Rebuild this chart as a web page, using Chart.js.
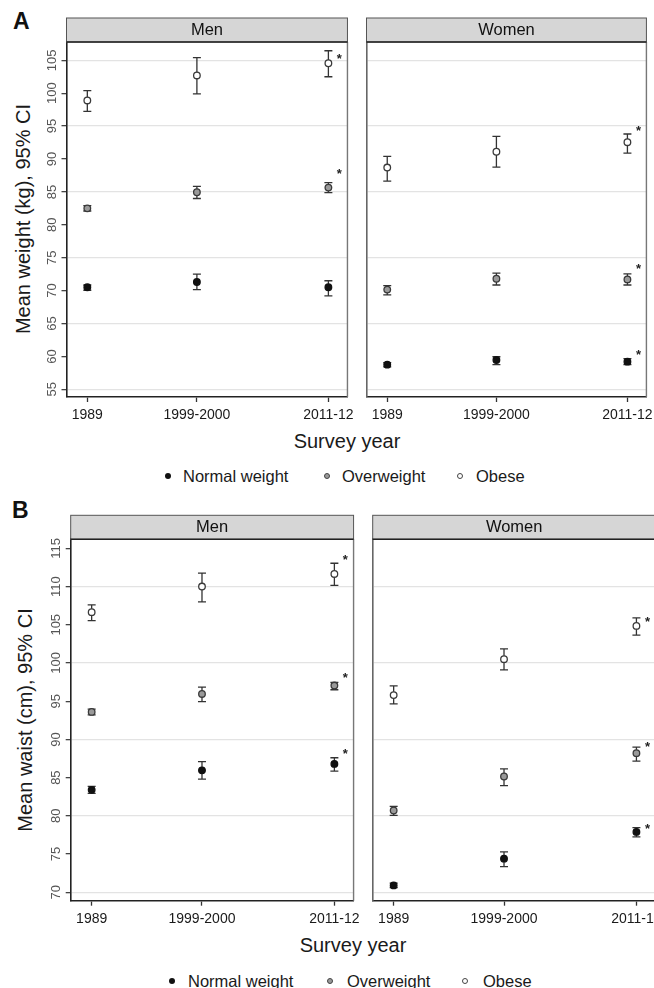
<!DOCTYPE html>
<html>
<head>
<meta charset="utf-8">
<script src="https://cdn.jsdelivr.net/npm/chart.js@4.4.1/dist/chart.umd.min.js"></script>
<style>
  html, body { margin: 0; padding: 0; background: #fff; }
  body { width: 654px; height: 988px; position: relative; overflow: hidden;
         font-family: "Liberation Sans", Arial, sans-serif; color: #1a1a1a; }
  canvas { position: absolute; }
  .txt { position: absolute; white-space: nowrap; line-height: 1; }
  .mid { transform: translate(-50%, -50%); }
  .ytitle { font-size: 20px; transform: translate(-50%, -50%) rotate(-90deg); }
  .xtitle { font-size: 20px; }
  .tag { font-size: 23px; font-weight: bold; color: #111; }
  .leg { font-size: 16.5px; transform: translateY(-50%); }
  .dot { position: absolute; width: 6px; height: 6px; border-radius: 50%; box-sizing: border-box;
         transform: translate(-50%, -50%); }
</style>
</head>
<body>

<div class="txt tag" style="left:13px; top:10px;">A</div>
<div class="txt ytitle" style="left:23px; top:219px;">Mean weight (kg), 95% CI</div>
<div class="txt xtitle mid" style="left:347px; top:441px;">Survey year</div>
<div class="dot" style="left:168px; top:476px; background:#111;"></div>
<div class="txt leg" style="left:183px; top:476px;">Normal weight</div>
<div class="dot" style="left:327px; top:476px; background:#9a9a9a; border:1px solid #444;"></div>
<div class="txt leg" style="left:342px; top:476px;">Overweight</div>
<div class="dot" style="left:460px; top:476px; background:#fff; border:1px solid #444;"></div>
<div class="txt leg" style="left:476px; top:476px;">Obese</div>

<div class="txt tag" style="left:12px; top:499px;">B</div>
<div class="txt ytitle" style="left:25px; top:720px;">Mean waist (cm), 95% CI</div>
<div class="txt xtitle mid" style="left:353px; top:945px;">Survey year</div>
<div class="dot" style="left:172px; top:981px; background:#111;"></div>
<div class="txt leg" style="left:188px; top:981px;">Normal weight</div>
<div class="dot" style="left:330px; top:981px; background:#9a9a9a; border:1px solid #444;"></div>
<div class="txt leg" style="left:347px; top:981px;">Overweight</div>
<div class="dot" style="left:465px; top:981px; background:#fff; border:1px solid #444;"></div>
<div class="txt leg" style="left:483px; top:981px;">Obese</div>

<script>
// survey years (x) and their labels
const years = [1989, 1999, 2011];
const yearLabels = ['1989', '1999-2000', '2011-12'];
const groups = ['Normal weight', 'Overweight', 'Obese'];

// each entry: [mean, lower 95% CI, upper 95% CI] for 1989, 1999-2000, 2011-12
const weightMenNormal = [[70.5, 70.05, 70.85], [71.3, 70.15, 72.5], [70.5, 69.2, 71.5]];
const weightMenOver   = [[82.5, 82.1, 82.9], [84.95, 84.0, 85.85], [85.65, 84.9, 86.4]];
const weightMenObese  = [[98.9, 97.25, 100.4], [102.7, 99.9, 105.4], [104.55, 102.5, 106.45]];
const weightWomenNormal = [[58.75, 58.4, 59.05], [59.45, 58.75, 59.95], [59.2, 58.75, 59.65]];
const weightWomenOver   = [[70.15, 69.35, 70.75], [71.8, 70.85, 72.65], [71.7, 70.85, 72.55]];
const weightWomenObese  = [[88.7, 86.65, 90.4], [91.1, 88.75, 93.45], [92.55, 90.9, 93.8]];

const waistMenNormal = [[83.4, 82.95, 83.85], [85.95, 84.8, 87.1], [86.8, 85.85, 87.6]];
const waistMenOver   = [[93.6, 93.2, 93.95], [95.95, 94.95, 96.85], [97.05, 96.5, 97.45]];
const waistMenObese  = [[106.65, 105.55, 107.6], [110.0, 108.0, 111.75], [111.65, 110.15, 113.05]];
const waistWomenNormal = [[70.9, 70.6, 71.2], [74.4, 73.35, 75.3], [77.9, 77.25, 78.45]];
const waistWomenOver   = [[80.7, 80.05, 81.25], [85.15, 83.95, 86.15], [88.2, 87.15, 89.0]];
const waistWomenObese  = [[95.8, 94.65, 97.0], [100.5, 99.1, 101.85], [104.85, 103.65, 105.9]];

// height of the "*" beside 2011-12 (normal, overweight, obese); null = none
const weightMenStars = [null, 88.2, 105.7];
const weightWomenStars = [60.7, 73.8, 94.75];
const waistMenStars = [88.5, 98.55, 113.9];
const waistWomenStars = [78.8, 89.5, 105.85];

// axis ticks and grid lines
const weightTicks = [55, 60, 65, 70, 75, 80, 85, 90, 95, 100, 105];
const weightGrid = [55, 65, 75, 85, 95, 105];
const waistTicks = [70, 75, 80, 85, 90, 95, 100, 105, 110, 115];
const waistGrid = [70, 80, 90, 100, 110];

const FONT = '"Liberation Sans", Arial, sans-serif';
const styles = [
  { fill: '#111111', edge: '#111111' },
  { fill: '#9a9a9a', edge: '#3a3a3a' },
  { fill: '#ffffff', edge: '#3a3a3a' }
];

// error bars, drawn under the markers
const ciPlugin = {
  id: 'ci',
  beforeDatasetsDraw(chart) {
    const { ctx, scales: { x, y } } = chart;
    ctx.save();
    ctx.strokeStyle = '#333';
    ctx.lineWidth = 1.3;
    chart.data.datasets.forEach(ds => {
      ds.ci.forEach((v, i) => {
        const px = x.getPixelForValue(years[i]);
        const lo = y.getPixelForValue(v[1]);
        const hi = y.getPixelForValue(v[2]);
        ctx.beginPath();
        ctx.moveTo(px, lo); ctx.lineTo(px, hi);
        ctx.moveTo(px - 4, lo); ctx.lineTo(px + 4, lo);
        ctx.moveTo(px - 4, hi); ctx.lineTo(px + 4, hi);
        ctx.stroke();
      });
    });
    ctx.restore();
  },
  afterDatasetsDraw(chart) {
    const { ctx, scales: { x, y } } = chart;
    ctx.save();
    ctx.fillStyle = '#222';
    ctx.font = 'bold 13px ' + FONT;
    ctx.textAlign = 'center';
    ctx.textBaseline = 'alphabetic';
    chart.data.datasets.forEach(ds => {
      if (ds.star == null) return;
      const px = x.getPixelForValue(years[2]) + 11;
      const py = y.getPixelForValue(ds.star) + 7.5;
      ctx.fillText('*', px, py);
    });
    ctx.restore();
  }
};

// plot box right edge and the grey strip header
const framePlugin = {
  id: 'frame',
  afterDraw(chart, args, opts) {
    const { ctx, chartArea: a } = chart;
    ctx.save();
    ctx.strokeStyle = '#777';
    ctx.lineWidth = 1.4;
    ctx.beginPath();
    ctx.moveTo(a.right, a.top); ctx.lineTo(a.right, a.bottom);
    ctx.stroke();
    ctx.fillStyle = '#d6d6d6';
    ctx.fillRect(a.left, a.top - 24, a.right - a.left, 24);
    ctx.strokeStyle = '#555';
    ctx.lineWidth = 1;
    ctx.strokeRect(a.left, a.top - 24, a.right - a.left, 24);
    ctx.strokeStyle = '#222';
    ctx.lineWidth = 1.6;
    ctx.beginPath();
    ctx.moveTo(a.left, a.top); ctx.lineTo(a.right, a.top);
    ctx.stroke();
    ctx.fillStyle = '#111';
    ctx.font = '16.5px ' + FONT;
    ctx.textAlign = 'center';
    ctx.textBaseline = 'middle';
    ctx.fillText(opts.title, (a.left + a.right) / 2, a.top - 11.5);
    ctx.restore();
  }
};

function makePanel(box, title, yTicks, yGrid, showY, series, stars) {
  const yw = showY ? 30 : 0;
  const cl = Math.round(box.l) - yw - 6;
  const ct = Math.round(box.t) - 40;
  const w = Math.ceil(box.r - cl + 6);
  const h = Math.ceil(box.b - ct + 32);
  const cv = document.createElement('canvas');
  cv.width = w; cv.height = h;
  cv.style.left = cl + 'px'; cv.style.top = ct + 'px';
  cv.style.width = w + 'px'; cv.style.height = h + 'px';
  document.body.appendChild(cv);

  const yMin = yTicks[0] - (yTicks === weightTicks ? 1.17 : 1.1);
  const yMax = yTicks[yTicks.length - 1] + (yTicks === weightTicks ? 2.78 : 1.18);

  new Chart(cv, {
    type: 'scatter',
    data: {
      datasets: series.map((s, g) => ({
        label: groups[g],
        data: s.map((v, i) => ({ x: years[i], y: v[0] })),
        ci: s,
        star: stars[g],
        pointStyle: 'circle',
        pointRadius: 3.3,
        pointHoverRadius: 3.3,
        pointBorderWidth: 1.3,
        pointBackgroundColor: styles[g].fill,
        pointBorderColor: styles[g].edge
      }))
    },
    options: {
      responsive: false,
      animation: false,
      devicePixelRatio: 1,
      layout: { padding: { left: box.l - cl - yw, top: box.t - ct, right: cl + w - box.r, bottom: h - (box.b - ct) - 30 } },
      plugins: { legend: { display: false }, tooltip: { enabled: false }, frame: { title } },
      scales: {
        x: {
          type: 'linear', min: 1987.1, max: 2012.74,
          afterBuildTicks: s => { s.ticks = years.map(v => ({ value: v })); },
          afterFit: s => { s.height = 30; },
          ticks: {
            callback: v => yearLabels[years.indexOf(v)],
            font: { size: 14, family: FONT }, color: '#1a1a1a',
            padding: 5, maxRotation: 0, autoSkip: false
          },
          grid: { drawOnChartArea: false, drawTicks: true, tickLength: 5, tickColor: '#333', tickWidth: 1.3 },
          border: { color: '#222', width: 1.6 }
        },
        y: {
          min: yMin, max: yMax,
          afterBuildTicks: s => { s.ticks = yTicks.map(v => ({ value: v })); },
          afterFit: s => { s.width = yw; },
          ticks: {
            display: showY, minRotation: 90, maxRotation: 90, crossAlign: 'center',
            font: { size: 13, family: FONT }, color: '#555', padding: -2, autoSkip: false
          },
          grid: {
            color: c => (c.tick && yGrid.includes(c.tick.value)) ? '#e3e3e3' : 'rgba(0,0,0,0)',
            lineWidth: 1.3, drawTicks: showY, tickLength: 5, tickColor: '#444', tickWidth: 1.3
          },
          border: { color: showY ? '#222' : '#666', width: 1.6 }
        }
      }
    },
    plugins: [ciPlugin, framePlugin]
  });
}

makePanel({ l: 66.5, t: 42, r: 352.5, b: 397 }, 'Men', weightTicks, weightGrid, true,
  [weightMenNormal, weightMenOver, weightMenObese], weightMenStars);
makePanel({ l: 366.5, t: 42, r: 652, b: 397 }, 'Women', weightTicks, weightGrid, false,
  [weightWomenNormal, weightWomenOver, weightWomenObese], weightWomenStars);
makePanel({ l: 70.7, t: 539.3, r: 358.3, b: 900.7 }, 'Men', waistTicks, waistGrid, true,
  [waistMenNormal, waistMenOver, waistMenObese], waistMenStars);
makePanel({ l: 372.7, t: 539.3, r: 661, b: 900.7 }, 'Women', waistTicks, waistGrid, false,
  [waistWomenNormal, waistWomenOver, waistWomenObese], waistWomenStars);
</script>
</body>
</html>
